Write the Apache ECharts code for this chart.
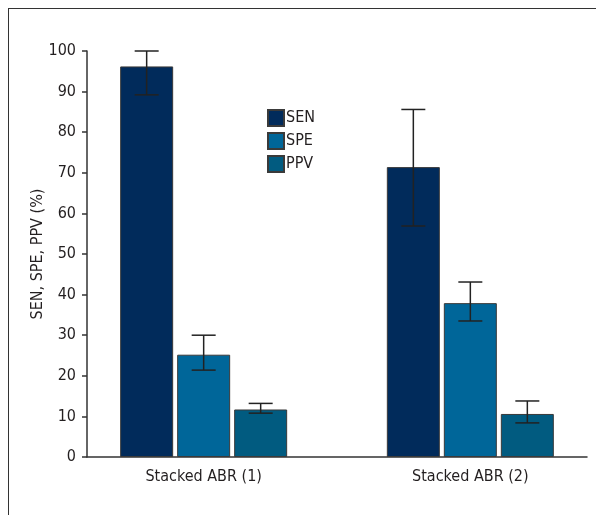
<!DOCTYPE html>
<html>
<head>
<meta charset="utf-8">
<script src="https://cdn.jsdelivr.net/npm/echarts@6/dist/echarts.min.js"></script>
<style>
html,body{margin:0;padding:0;background:#fff;}
#wrap{position:relative;width:596px;height:515px;}
#chart{position:absolute;left:0;top:0;width:596px;height:515px;}
#frame{position:absolute;left:8px;top:8px;right:0;bottom:0;border-left:1.5px solid #333;border-top:1.5px solid #333;pointer-events:none;}
</style>
</head>
<body>
<div id="wrap"><div id="chart"></div><div id="frame"></div></div>
<script>
// ---- data ----
const categories = ['Stacked ABR (1)', 'Stacked ABR (2)'];
const seriesNames = ['SEN', 'SPE', 'PPV'];
const senValues = [96.2, 71.4];
const speValues = [25.2, 37.9];
const ppvValues = [11.7, 10.6];
const senLow = [89.2, 56.9];
const senHigh = [100.0, 85.6];
const speLow = [21.4, 33.5];
const speHigh = [30.0, 43.1];
const ppvLow = [10.8, 8.4];
const ppvHigh = [13.2, 13.8];
const yTicks = [0, 10, 20, 30, 40, 50, 60, 70, 80, 90, 100];

// ---- layout helpers (not data) ----
const SLOT_COUNT = 15;
const groupSlots = [3, 11];
const slotLabels = Array.from({length: SLOT_COUNT}, () => '');
groupSlots.forEach((s, i) => { slotLabels[s] = categories[i]; });
function toSlots(vals) {
  const arr = Array.from({length: SLOT_COUNT}, () => null);
  groupSlots.forEach((s, i) => { arr[s] = vals[i]; });
  return arr;
}
const BAR_W = 53, BAR_GAP = 4;
const colors = ['#012b5b', '#006699', '#015b80'];
const allVals = [senValues, speValues, ppvValues];
const allLow = [senLow, speLow, ppvLow];
const allHigh = [senHigh, speHigh, ppvHigh];
const FONT = "'DejaVu Sans Condensed', 'Liberation Sans Narrow', sans-serif";
const TXT = '#231f20';

const errData = [];
allLow.forEach((lows, si) => {
  lows.forEach((lo, gi) => {
    errData.push([groupSlots[gi], lo, allHigh[si][gi], si]);
  });
});

const barSeries = seriesNames.map((name, i) => ({
  name: name,
  type: 'bar',
  data: toSlots(allVals[i]),
  barWidth: BAR_W,
  barGap: (BAR_GAP / BAR_W * 100) + '%',
  itemStyle: { color: colors[i], borderColor: '#3a3a3a', borderWidth: 1 },
  emphasis: { disabled: true }
}));

const errSeries = {
  type: 'custom',
  name: 'err',
  data: errData,
  z: 10,
  renderItem: function (params, api) {
    const slot = api.value(0);
    const lo = api.value(1), hi = api.value(2), si = api.value(3);
    const off = (si - 1) * (BAR_W + BAR_GAP);
    const pLo = api.coord([slot, lo]);
    const pHi = api.coord([slot, hi]);
    const x = pLo[0] + off;
    const cap = 12;
    const st = { stroke: '#222', lineWidth: 1.5 };
    return {
      type: 'group',
      children: [
        { type: 'line', shape: { x1: x, y1: pHi[1], x2: x, y2: pLo[1] }, style: st },
        { type: 'line', shape: { x1: x - cap, y1: pHi[1], x2: x + cap, y2: pHi[1] }, style: st },
        { type: 'line', shape: { x1: x - cap, y1: pLo[1], x2: x + cap, y2: pLo[1] }, style: st }
      ]
    };
  }
};

const chart = echarts.init(document.getElementById('chart'), null, { renderer: 'canvas' });
chart.setOption({
  animation: false,
  backgroundColor: 'transparent',
  textStyle: { fontFamily: FONT },
  grid: { left: 87, right: 9, top: 51, bottom: 58, containLabel: false },
  legend: {
    data: seriesNames,
    orient: 'vertical',
    left: 262,
    top: 104,
    itemWidth: 16,
    itemHeight: 16,
    itemGap: 5,
    textStyle: { fontFamily: FONT, fontSize: 16, color: TXT, padding: [0, 0, 0, -3] },
    icon: 'rect'
  },
  xAxis: {
    type: 'category',
    data: slotLabels,
    axisLine: { lineStyle: { color: '#333', width: 1.5 } },
    axisTick: { show: false },
    axisLabel: { interval: 0, fontSize: 16, color: TXT, margin: 12, fontFamily: FONT },
    splitLine: { show: false }
  },
  yAxis: {
    type: 'value',
    min: yTicks[0],
    max: yTicks[yTicks.length - 1],
    interval: yTicks[1] - yTicks[0],
    name: 'SEN, SPE, PPV (%)',
    nameLocation: 'middle',
    nameRotate: 90,
    nameGap: 41,
    nameMoveOverlap: false,
    nameTextStyle: { fontSize: 16, color: TXT, fontFamily: FONT },
    axisLine: { show: true, lineStyle: { color: '#333', width: 1.5 } },
    axisTick: { show: true, length: 5, lineStyle: { color: '#333', width: 1.5 } },
    axisLabel: { fontSize: 16, color: TXT, margin: 11, fontFamily: FONT },
    splitLine: { show: false }
  },
  series: barSeries.concat([errSeries])
});
</script>
</body>
</html>
